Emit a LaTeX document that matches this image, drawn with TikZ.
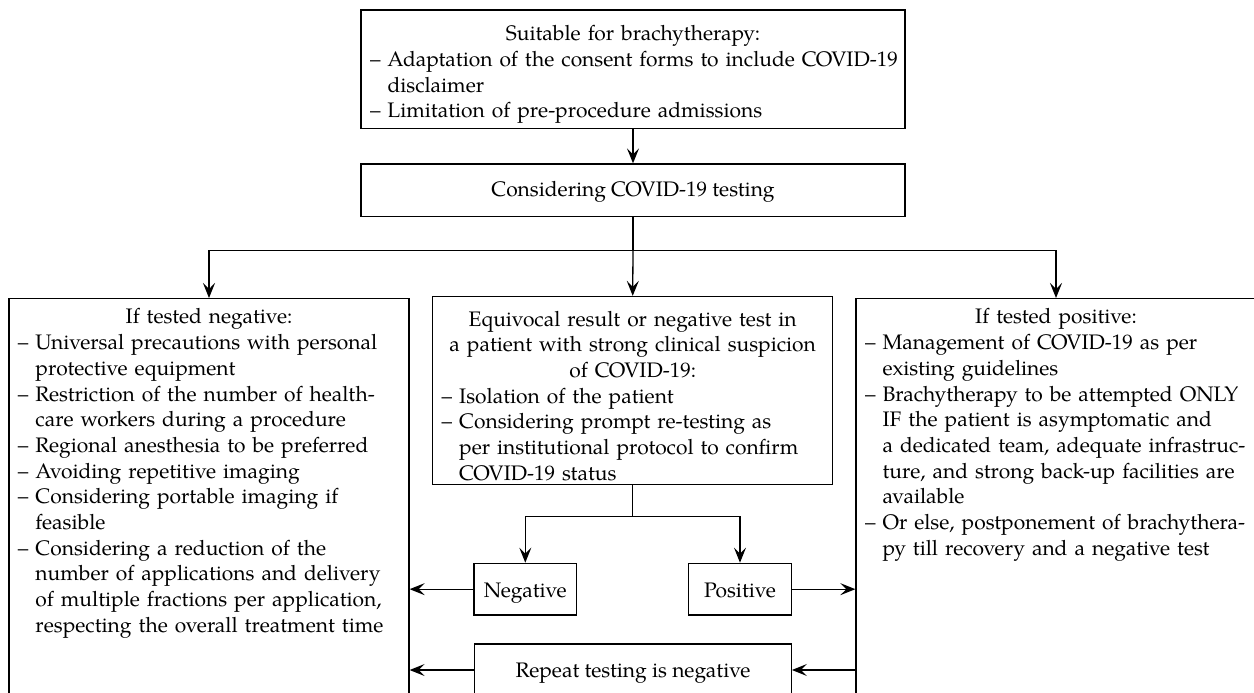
\documentclass[tikz,border=0pt]{standalone}
\usepackage{fontspec}
\setmainfont{TeX Gyre Pagella}
\usetikzlibrary{arrows.meta}
\newcommand\cl[1]{\hbox to\hsize{\hss#1\hss}}
\newcommand\fl[1]{\hbox to\hsize{–\ #1\hss}}
\newcommand\cn[1]{\hbox to\hsize{\hphantom{–\ }#1\hss}}
\begin{document}
\begin{tikzpicture}[x=0.5pt,y=-0.5pt,
  line width=0.65pt,
  >={Stealth[length=7.5pt,width=6pt,inset=3pt]},
  every node/.style={font=\fontsize{10.5pt}{12.85pt}\selectfont},
  box/.style={draw, rectangle, inner xsep=4.5pt, inner ysep=2pt},
  tallbox/.style={draw, rectangle, anchor=north, text width=191pt, inner xsep=4.5pt, inner ysep=4pt},
  smallbox/.style={draw, rectangle, inner sep=0pt, minimum height=25.85pt, text height=10.2pt, text depth=2pt}]
\useasboundingbox (0,0) rectangle (1254,692);
\clip (0,0) rectangle (1254,692);

\node[box, text width=263pt, minimum height=59.25pt] (top) at (633,69.25) {\par
  \cl{Suitable for brachytherapy:}
  \fl{Adaptation of the consent forms to include COVID-19}
  \cn{disclaimer}
  \fl{Limitation of pre-procedure admissions}};

\node[box, minimum width=272pt, minimum height=26.35pt, text height=8pt, text depth=2pt] (cons) at (633,190.35) {Considering COVID-19 testing};

\node[tallbox] (lneg) at (209,298) {\par\vbox to 205pt{
  \cl{If tested negative:}
  \fl{Universal precautions with personal}
  \cn{protective equipment}
  \fl{Restriction of the number of health-}
  \cn{care workers during a procedure}
  \fl{Regional anesthesia to be preferred}
  \fl{Avoiding repetitive imaging}
  \fl{Considering portable imaging if}
  \cn{feasible}
  \fl{Considering a reduction of the}
  \cn{number of applications and delivery}
  \cn{of multiple fractions per application,}
  \cn{respecting the overall treatment time}
  \vfil}};

\node[box, text width=191pt, minimum height=92.65pt] (mid) at (632.7,390.65) {\par
  \cl{Equivocal result or negative test in}
  \cl{a patient with strong clinical suspicion}
  \cl{of COVID-19:}
  \fl{Isolation of the patient}
  \fl{Considering prompt re-testing as}
  \cn{per institutional protocol to confirm}
  \cn{COVID-19 status}};

\node[tallbox] (rpos) at (1056,298) {\par\vbox to 205pt{
  \cl{If tested positive:}
  \fl{Management of COVID-19 as per}
  \cn{existing guidelines}
  \fl{Brachytherapy to be attempted ONLY}
  \cn{IF the patient is asymptomatic and}
  \cn{a dedicated team, adequate infrastruc-}
  \cn{ture, and strong back-up facilities are}
  \cn{available}
  \fl{Or else, postponement of brachythera-}
  \cn{py till recovery and a negative test}
  \vfil}};

\node[smallbox, minimum width=51.35pt] (negb) at (525.3,589.15) {Negative};
\node[smallbox, minimum width=51.35pt] (posb) at (740,589.15) {Positive};
\node[smallbox, minimum width=158.3pt, minimum height=26pt, text height=9pt, text depth=2pt] (rep) at (633,670) {Repeat testing is negative};

\coordinate (bus) at (0,250.7);
\coordinate (bus2) at (0,516.7);

\draw[->] (top.south) -- (cons.north);
\draw (cons.south) -- (cons.south |- bus);
\draw[->] (cons.south |- bus) -| (lneg.north);
\draw[->] (cons.south |- bus) -| (rpos.north);
\draw[->] (cons.south |- bus) -- (mid.north);
\draw (mid.south) -- (mid.south |- bus2);
\draw[->] (mid.south |- bus2) -| (negb.north);
\draw[->] (mid.south |- bus2) -| (posb.north);
\draw[->] (negb.west) -- (negb.west -| lneg.east);
\draw[->] (posb.east) -- (posb.east -| rpos.west);
\draw[->] (rep.east -| rpos.west) -- (rep.east);
\draw[->] (rep.west) -- (rep.west -| lneg.east);
\end{tikzpicture}
\end{document}
